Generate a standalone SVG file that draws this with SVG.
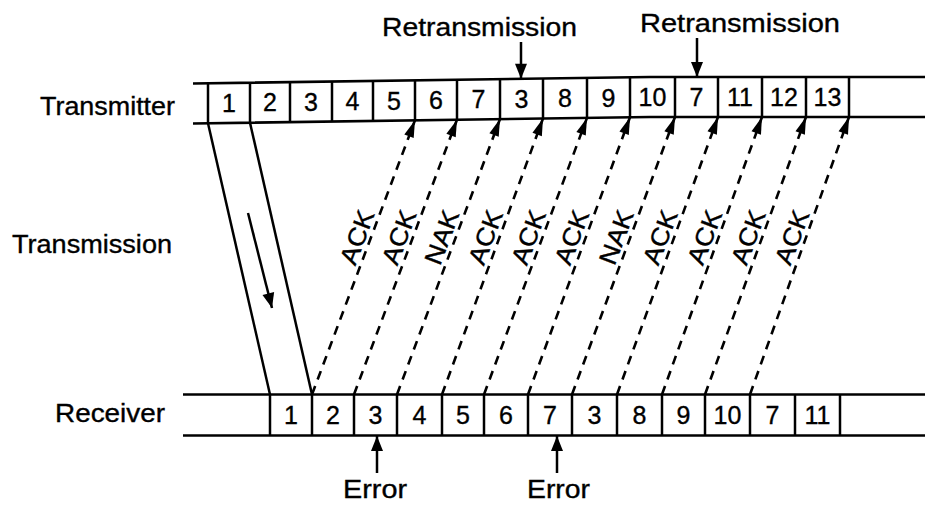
<svg xmlns="http://www.w3.org/2000/svg" width="925" height="506" viewBox="0 0 925 506">
<style>
.ln{stroke:#000;stroke-width:2.6;fill:none}
.dv{stroke:#000;stroke-width:2.5}
.t{font-family:"Liberation Sans",Arial,Helvetica,sans-serif;font-size:25px;fill:#000;stroke:#000;stroke-width:0.35}
.d{font-family:"Liberation Sans",Arial,Helvetica,sans-serif;font-size:25px;fill:#000;stroke:#000;stroke-width:0.35;text-anchor:middle}
.lbl{font-family:"Liberation Sans",Arial,Helvetica,sans-serif;font-size:25px;fill:#000;stroke:#000;stroke-width:0.35;text-anchor:middle}
.dash{stroke:#000;stroke-width:2.6;stroke-dasharray:9 7;fill:none;marker-end:url(#ah)}
.sol{stroke:#000;stroke-width:2.5;fill:none}
.ar{stroke:#000;stroke-width:2.5;fill:none;marker-end:url(#ah2)}
</style>
<defs>
<marker id="ah" markerUnits="userSpaceOnUse" markerWidth="18" markerHeight="11" refX="17" refY="5.5" orient="auto" overflow="visible">
<path d="M0,0.5 L17,5.5 L0,10.5 z" fill="#000"/>
</marker>
<marker id="ah2" markerUnits="userSpaceOnUse" markerWidth="16" markerHeight="13" refX="15" refY="6" orient="auto" overflow="visible">
<path d="M0,0 L15,6 L0,12 z" fill="#000"/>
</marker>
</defs>
<rect width="925" height="506" fill="#fff"/>

<g id="transmitter">
<text class="t" x="40" y="115" textLength="135" lengthAdjust="spacingAndGlyphs">Transmitter</text>
<polyline class="ln" points="193,83.5 650,77 925,77"/>
<polyline class="ln" points="193,123.5 650,117 925,117"/>
<line class="dv" x1="208" y1="83.3" x2="208" y2="123.3"/>
<line class="dv" x1="250" y1="82.7" x2="250" y2="122.7"/>
<line class="dv" x1="290" y1="82.1" x2="290" y2="122.1"/>
<line class="dv" x1="332" y1="81.5" x2="332" y2="121.5"/>
<line class="dv" x1="373" y1="80.9" x2="373" y2="120.9"/>
<line class="dv" x1="415" y1="80.3" x2="415" y2="120.3"/>
<line class="dv" x1="457" y1="79.7" x2="457" y2="119.7"/>
<line class="dv" x1="500" y1="79.1" x2="500" y2="119.1"/>
<line class="dv" x1="543" y1="78.5" x2="543" y2="118.5"/>
<line class="dv" x1="587" y1="77.9" x2="587" y2="117.9"/>
<line class="dv" x1="630" y1="77.3" x2="630" y2="117.3"/>
<line class="dv" x1="675" y1="77" x2="675" y2="117"/>
<line class="dv" x1="718" y1="77" x2="718" y2="117"/>
<line class="dv" x1="762" y1="77" x2="762" y2="117"/>
<line class="dv" x1="806" y1="77" x2="806" y2="117"/>
<line class="dv" x1="849" y1="77" x2="849" y2="117"/>
<text class="d" x="229" y="112">1</text>
<text class="d" x="270" y="111.4">2</text>
<text class="d" x="311" y="110.8">3</text>
<text class="d" x="352.5" y="110.2">4</text>
<text class="d" x="394" y="109.6">5</text>
<text class="d" x="436" y="109">6</text>
<text class="d" x="478.5" y="108.4">7</text>
<text class="d" x="521.5" y="107.8">3</text>
<text class="d" x="565" y="107.2">8</text>
<text class="d" x="608.5" y="106.6">9</text>
<text class="d" x="652.5" y="106">10</text>
<text class="d" x="696.5" y="106">7</text>
<text class="d" x="740" y="106">11</text>
<text class="d" x="784" y="106">12</text>
<text class="d" x="827.5" y="106">13</text>
</g>

<g id="receiver">
<text class="t" x="55" y="422" textLength="110" lengthAdjust="spacingAndGlyphs">Receiver</text>
<line class="ln" x1="183" y1="394.5" x2="925" y2="394.5"/>
<line class="ln" x1="183" y1="435.5" x2="925" y2="435.5"/>
<line class="dv" x1="270" y1="394.5" x2="270" y2="435.5"/>
<line class="dv" x1="312" y1="394.5" x2="312" y2="435.5"/>
<line class="dv" x1="354" y1="394.5" x2="354" y2="435.5"/>
<line class="dv" x1="397" y1="394.5" x2="397" y2="435.5"/>
<line class="dv" x1="442" y1="394.5" x2="442" y2="435.5"/>
<line class="dv" x1="484" y1="394.5" x2="484" y2="435.5"/>
<line class="dv" x1="528" y1="394.5" x2="528" y2="435.5"/>
<line class="dv" x1="572" y1="394.5" x2="572" y2="435.5"/>
<line class="dv" x1="617" y1="394.5" x2="617" y2="435.5"/>
<line class="dv" x1="662" y1="394.5" x2="662" y2="435.5"/>
<line class="dv" x1="705" y1="394.5" x2="705" y2="435.5"/>
<line class="dv" x1="750" y1="394.5" x2="750" y2="435.5"/>
<line class="dv" x1="795" y1="394.5" x2="795" y2="435.5"/>
<line class="dv" x1="840" y1="394.5" x2="840" y2="435.5"/>
<text class="d" x="291" y="424">1</text>
<text class="d" x="333" y="424">2</text>
<text class="d" x="375.5" y="424">3</text>
<text class="d" x="419.5" y="424">4</text>
<text class="d" x="463" y="424">5</text>
<text class="d" x="506" y="424">6</text>
<text class="d" x="550" y="424">7</text>
<text class="d" x="594.5" y="424">3</text>
<text class="d" x="639.5" y="424">8</text>
<text class="d" x="683.5" y="424">9</text>
<text class="d" x="727.5" y="424">10</text>
<text class="d" x="772.5" y="424">7</text>
<text class="d" x="817.5" y="424">11</text>
</g>

<g id="transmission">
<text class="t" x="12" y="253" textLength="160" lengthAdjust="spacingAndGlyphs">Transmission</text>
<line class="sol" x1="208" y1="123.3" x2="270" y2="394.5"/>
<line class="sol" x1="250" y1="122.7" x2="312" y2="394.5"/>
<line class="ar" x1="248" y1="213" x2="272" y2="308"/>
</g>

<g id="connectors">
<line class="dash" x1="312" y1="394.5" x2="415" y2="120.3"/>
<line class="dash" x1="354" y1="394.5" x2="457" y2="119.7"/>
<line class="dash" x1="397" y1="394.5" x2="500" y2="119.1"/>
<line class="dash" x1="442" y1="394.5" x2="543" y2="118.5"/>
<line class="dash" x1="484" y1="394.5" x2="587" y2="117.9"/>
<line class="dash" x1="528" y1="394.5" x2="630" y2="117.3"/>
<line class="dash" x1="572" y1="394.5" x2="675" y2="117"/>
<line class="dash" x1="617" y1="394.5" x2="718" y2="117"/>
<line class="dash" x1="662" y1="394.5" x2="762" y2="117"/>
<line class="dash" x1="705" y1="394.5" x2="806" y2="117"/>
<line class="dash" x1="750" y1="394.5" x2="849" y2="117"/>
</g>

<g id="ack-labels">
<text class="lbl" transform="translate(356.7,237) rotate(-69.4)" y="9" textLength="56" lengthAdjust="spacingAndGlyphs">ACK</text>
<text class="lbl" transform="translate(398.6,237) rotate(-69.4)" y="9" textLength="56" lengthAdjust="spacingAndGlyphs">ACK</text>
<text class="lbl" transform="translate(441.4,237) rotate(-69.4)" y="9" textLength="56" lengthAdjust="spacingAndGlyphs">NAK</text>
<text class="lbl" transform="translate(485.1,237) rotate(-69.4)" y="9" textLength="56" lengthAdjust="spacingAndGlyphs">ACK</text>
<text class="lbl" transform="translate(528.1,237) rotate(-69.4)" y="9" textLength="56" lengthAdjust="spacingAndGlyphs">ACK</text>
<text class="lbl" transform="translate(571.4,237) rotate(-69.4)" y="9" textLength="56" lengthAdjust="spacingAndGlyphs">ACK</text>
<text class="lbl" transform="translate(615.9,237) rotate(-69.4)" y="9" textLength="56" lengthAdjust="spacingAndGlyphs">NAK</text>
<text class="lbl" transform="translate(659.8,237) rotate(-69.4)" y="9" textLength="56" lengthAdjust="spacingAndGlyphs">ACK</text>
<text class="lbl" transform="translate(704.3,237) rotate(-69.4)" y="9" textLength="56" lengthAdjust="spacingAndGlyphs">ACK</text>
<text class="lbl" transform="translate(747.9,237) rotate(-69.4)" y="9" textLength="56" lengthAdjust="spacingAndGlyphs">ACK</text>
<text class="lbl" transform="translate(791.7,237) rotate(-69.4)" y="9" textLength="56" lengthAdjust="spacingAndGlyphs">ACK</text>
</g>

<g id="retransmission-1">
<text class="t" x="382" y="36" textLength="195" lengthAdjust="spacingAndGlyphs">Retransmission</text>
<line class="ar" x1="521" y1="42" x2="521" y2="78.8"/>
</g>
<g id="retransmission-2">
<text class="t" x="640" y="32" textLength="200" lengthAdjust="spacingAndGlyphs">Retransmission</text>
<line class="ar" x1="697" y1="38" x2="697" y2="77"/>
</g>

<g id="error-1">
<line class="ar" x1="377" y1="473" x2="377" y2="436"/>
<text class="t" x="343" y="498" textLength="64" lengthAdjust="spacingAndGlyphs">Error</text>
</g>
<g id="error-2">
<line class="ar" x1="557" y1="473" x2="557" y2="436"/>
<text class="t" x="527" y="498" textLength="63" lengthAdjust="spacingAndGlyphs">Error</text>
</g>
</svg>
